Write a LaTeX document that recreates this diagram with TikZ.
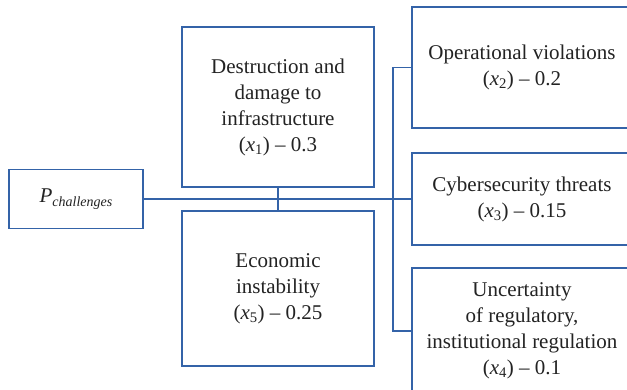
\documentclass[tikz,border=0pt]{standalone}
\usepackage{fontspec}
\setmainfont{Liberation Serif}
\definecolor{lineblue}{RGB}{52,99,168}
\definecolor{inkgray}{RGB}{35,35,35}
\newcommand{\xsub}[1]{\textit{x}\textsubscript{#1}}
\begin{document}
\begin{tikzpicture}[x=1pt,y=-1pt,
  box/.style={draw=lineblue, line width=1.4pt, fill=white, inner sep=0pt, outer sep=0pt,
    align=center, text=inkgray, font=\fontsize{21}{26}\selectfont},
  conn/.style={draw=lineblue, line width=1.4pt},
  mainconn/.style={draw=lineblue, line width=2.2pt}]
\useasboundingbox (0,0) rectangle (627,390);
\clip (0,0) rectangle (627,390);

% factor boxes
\node[box, minimum width=134, minimum height=59] (P) at (76,199)
  {\textit{P}\raisebox{-0.45ex}{\fontsize{14}{14}\selectfont\textit{challenges}}};
\node[box, minimum width=192, minimum height=160] (d1) at (278,107)
  {Destruction and\\damage to\\infrastructure\\(\xsub{1}) -- 0.3};
\node[box, minimum width=192, minimum height=155] (econ) at (278,288.5)
  {Economic\\instability\\(\xsub{5}) -- 0.25};
\node[box, minimum width=220, minimum height=121] (ops) at (522,67.5)
  {Operational violations\\(\xsub{2}) -- 0.2};
\node[box, minimum width=220, minimum height=92] (cyber) at (522,199)
  {Cybersecurity threats\\(\xsub{3}) -- 0.15};
\node[box, minimum width=220, minimum height=126] (unc) at (522,331)
  {Uncertainty\\of regulatory,\\institutional regulation\\(\xsub{4}) -- 0.1};

% vertical bus feeding the right-hand boxes
\coordinate (bus) at (393,199);

% connectors
\draw[conn] (d1.south) -- (econ.north);
\draw[conn] (ops.west) -- (ops.west -| bus) -- (unc.west -| bus) -- (unc.west);
\draw[mainconn] (P.east) -- (cyber.west);
\end{tikzpicture}
\end{document}
